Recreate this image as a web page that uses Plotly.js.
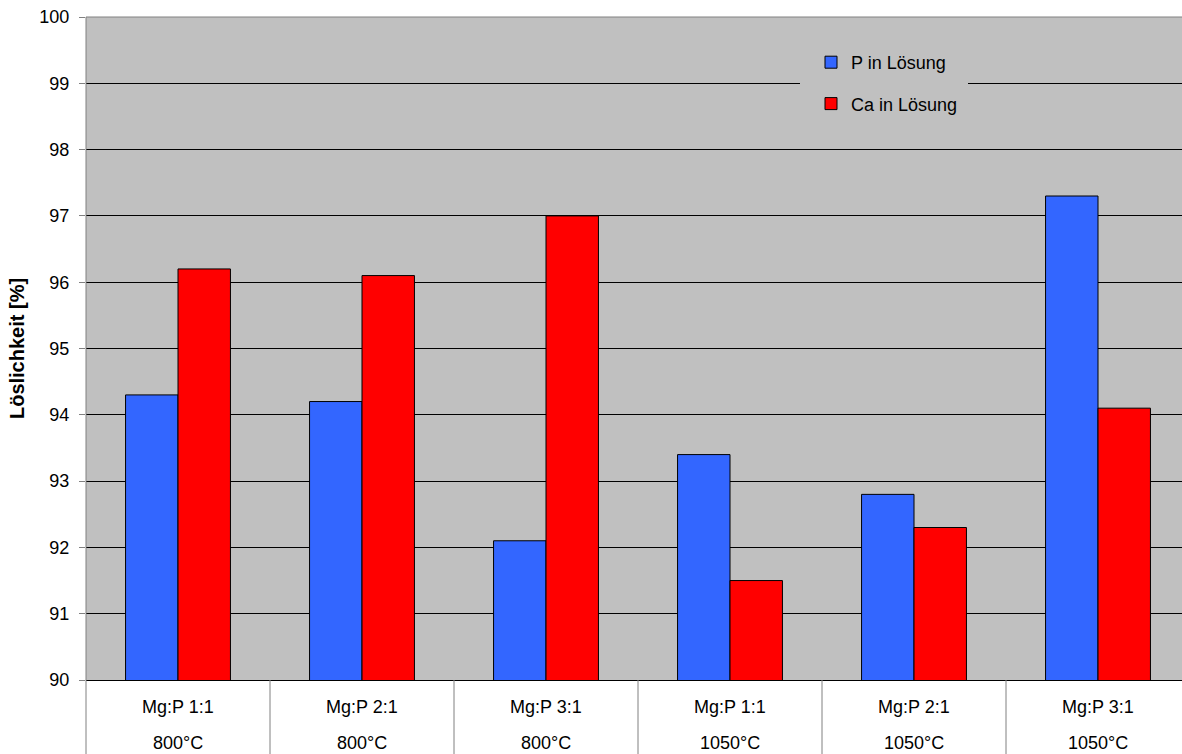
<!DOCTYPE html>
<html>
<head>
<meta charset="utf-8">
<script src="https://cdn.plot.ly/plotly-3.0.1.min.js"></script>
<style>
html, body { margin: 0; padding: 0; overflow: hidden; background: #fff; }
#chart { width: 1190px; height: 754px; }
</style>
</head>
<body>
<div id="chart"></div>
<script>
var categories = ["c1", "c2", "c3", "c4", "c5", "c6"];
var labelLine1 = ["Mg:P 1:1", "Mg:P 2:1", "Mg:P 3:1", "Mg:P 1:1", "Mg:P 2:1", "Mg:P 3:1"];
var labelLine2 = ["800°C", "800°C", "800°C", "1050°C", "1050°C", "1050°C"];
var pValues = [94.3, 94.2, 92.1, 93.4, 92.8, 97.3];
var caValues = [96.2, 96.1, 97.0, 91.5, 92.3, 94.1];
var seriesNames = ["P in Lösung", "Ca in Lösung"];
var yTicks = [90, 91, 92, 93, 94, 95, 96, 97, 98, 99, 100];

var font = "Liberation Sans, Arial, sans-serif";
var fs = 18;

var traces = [
  {type: "bar", x: categories, y: pValues, name: seriesNames[0], legendgroup: "a",
   marker: {color: "#3366FF", line: {color: "#000000", width: 1}}},
  {type: "bar", x: categories, y: caValues, name: seriesNames[1], legendgroup: "b",
   marker: {color: "#FF0000", line: {color: "#000000", width: 1}}}
];

var bottomDepth = -74 / 663;
var shapes = [];
shapes.push({type: "line", xref: "paper", yref: "paper", x0: 0, x1: 1, y0: 1, y1: 1,
  line: {color: "#808080", width: 1}});
shapes.push({type: "line", xref: "paper", yref: "paper", x0: 0, x1: 0, y0: 1, y1: bottomDepth,
  line: {color: "#808080", width: 1}});
for (var i = 0; i < categories.length; i++) {
  shapes.push({type: "line", xref: "x", yref: "paper", x0: i + 0.5, x1: i + 0.5,
    y0: 0, y1: bottomDepth, line: {color: "#808080", width: 1}});
}
shapes.push({type: "rect", xref: "paper", yref: "paper", layer: "above",
  x0: (800 - 86) / 1104, x1: (968 - 86) / 1104, y0: 1 - (45 - 17) / 663, y1: 1 - (125 - 17) / 663,
  fillcolor: "#C0C0C0", line: {width: 0}});

var annotations = [];
for (var j = 0; j < categories.length; j++) {
  annotations.push({x: categories[j], xref: "x", yref: "paper", y: -(707 - 680) / 663,
    text: labelLine1[j], showarrow: false, font: {family: font, size: fs, color: "#000"},
    xanchor: "center", yanchor: "middle"});
  annotations.push({x: categories[j], xref: "x", yref: "paper", y: -(743 - 680) / 663,
    text: labelLine2[j], showarrow: false, font: {family: font, size: fs, color: "#000"},
    xanchor: "center", yanchor: "middle"});
}

var layout = {
  width: 1190, height: 754,
  margin: {l: 86, r: 0, t: 17, b: 74, pad: 0},
  paper_bgcolor: "#FFFFFF",
  plot_bgcolor: "#C0C0C0",
  font: {family: font, size: fs, color: "#000"},
  barmode: "group",
  bargap: 0.43,
  bargroupgap: 0,
  showlegend: true,
  legend: {x: (811 - 86) / 1104, y: 1 - (44 - 17) / 663, xanchor: "left", yanchor: "top",
    bgcolor: "rgba(0,0,0,0)", borderwidth: 0, tracegroupgap: 15,
    font: {family: font, size: fs, color: "#000"}},
  xaxis: {type: "category", range: [-0.5, 5.5], showticklabels: false, ticks: "",
    showgrid: false, zeroline: false, showline: true, linecolor: "#000000", linewidth: 1,
    fixedrange: true},
  yaxis: {range: [90, 100], tickvals: yTicks, ticktext: yTicks.map(String),
    ticks: "outside", ticklen: 6, tickcolor: "#808080", tickwidth: 1, ticklabelstandoff: 6,
    showgrid: true, gridcolor: "#000000", gridwidth: 1, zeroline: false,
    showline: false, tickfont: {family: font, size: fs, color: "#000"},
    title: {text: "<b>Löslichkeit [%]</b>", font: {family: font, size: 20, color: "#000"}, standoff: 9},
    automargin: false},
  shapes: shapes,
  annotations: annotations
};

Plotly.newPlot("chart", traces, layout, {displayModeBar: false, staticPlot: true});
</script>
</body>
</html>
